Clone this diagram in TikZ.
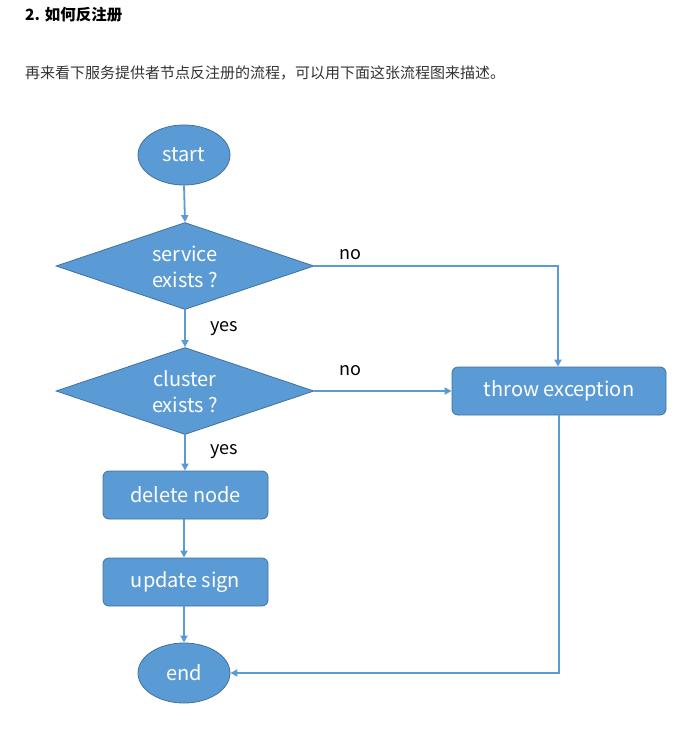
\documentclass[tikz,border=0pt]{standalone}
\usepackage{fontspec}
\setmainfont{Noto Sans CJK SC}
\usetikzlibrary{shapes.geometric,arrows.meta}
\definecolor{boxfill}{HTML}{5B9BD5}
\definecolor{boxline}{HTML}{41719C}
\definecolor{txtgray}{HTML}{333333}
\begin{document}
\begin{tikzpicture}[x=1pt,y=-1pt,
  shapetext/.style={text=white,font=\fontsize{20}{23}\selectfont,align=center},
  ovalbox/.style={ellipse,draw=boxline,fill=boxfill,line width=0.8pt,minimum width=92pt,minimum height=60pt,inner sep=0pt,shapetext},
  decisionbox/.style={diamond,draw=boxline,fill=boxfill,line width=0.8pt,minimum width=258pt,minimum height=87pt,inner sep=0pt,aspect=2.97,shapetext},
  procbox/.style={rectangle,rounded corners=6pt,draw=boxline,fill=boxfill,line width=0.8pt,inner sep=0pt,shapetext},
  conn/.style={draw=boxfill,line width=1.8pt,-{Triangle[length=7pt,width=7pt]}},
  lbl/.style={text=black,font=\fontsize{18}{20}\selectfont,inner sep=0pt}]
\useasboundingbox (0,0) rectangle (693,745);
\node[anchor=west,inner sep=0pt,font=\fontsize{15.5}{18}\selectfont\bfseries] (title) at (25,15) {2. 如何反注册};
\node[anchor=west,inner sep=0pt,text=txtgray,font=\fontsize{15}{17}\selectfont] (para) at (25,73) {再来看下服务提供者节点反注册的流程，可以用下面这张流程图来描述。};

\node[ovalbox] (start) at (184,155) {start};
\node[decisionbox] (d1) at (185,266) {};
\node[shapetext] (d1t) at (185,267) {service\\[3pt]exists ?};
\node[decisionbox] (d2) at (185,391) {};
\node[shapetext] (d2t) at (185,392) {cluster\\[3pt]exists ?};
\node[procbox,minimum width=214pt,minimum height=48pt] (throw) at (559,391) {throw exception};
\node[procbox,minimum width=165pt,minimum height=48pt] (del) at (185.5,495) {delete node};
\node[procbox,minimum width=165pt,minimum height=48pt] (upd) at (185.5,582) {update sign};
\node[ovalbox] (end) at (184,673) {end};

\coordinate (c1) at (558,266);
\coordinate (c2) at (559,673);

\draw[conn] (start.south) -- (d1.north);
\draw[conn] (d1.east) -- (c1) -- (throw.north -| c1);
\draw[conn] (d1.south) -- (d2.north);
\draw[conn] (d2.east) -- (throw.west);
\draw[conn] (d2.south) -- (del.north -| d2.south);
\draw[conn] (del.south -| start.south) -- (upd.north -| start.south);
\draw[conn] (upd.south -| start.south) -- (end.north);
\draw[conn] (throw.south) -- (c2) -- (end.east);

\node[lbl] (no1) at (350,255) {no};
\node[lbl] (no2) at (350,371) {no};
\node[lbl] (yes1) at (224,329) {yes};
\node[lbl] (yes2) at (224,452) {yes};
\end{tikzpicture}
\end{document}
